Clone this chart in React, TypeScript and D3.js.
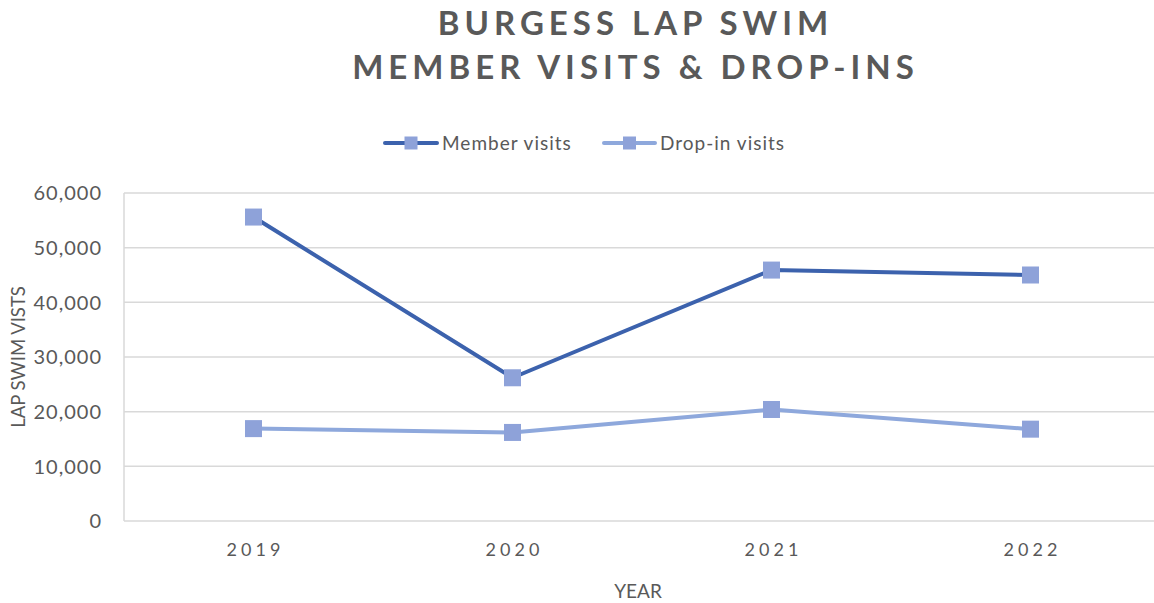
import React from 'react';
import * as d3 from 'd3';

const years = ['2019', '2020', '2021', '2022'];
const memberVisits = [55600, 26200, 45900, 45000];
const dropInVisits = [16900, 16200, 20400, 16800];
const yTicks = [0, 10000, 20000, 30000, 40000, 50000, 60000];

const series = [
  { name: 'Member visits', values: memberVisits, line: '#3c62ad' },
  { name: 'Drop-in visits', values: dropInVisits, line: '#8ea8dc' },
];

const W = 1154;
const H = 603;
const margin = { top: 193, right: -6, bottom: 82, left: 124 };
const font = 'Lato, "Noto Sans", sans-serif';
const textColor = '#595959';
const markerColor = '#8ea2d9';

const App = () => {
  const x = d3
    .scaleBand()
    .domain(years)
    .range([margin.left, W - margin.right]);
  const y = d3
    .scaleLinear()
    .domain([0, 60000])
    .range([H - margin.bottom, margin.top]);
  const fmt = d3.format(',');
  const cx = (i: number) => (x(years[i]) as number) + x.bandwidth() / 2;

  const line = d3
    .line<number>()
    .x((_, i) => cx(i))
    .y(d => y(d));

  const ms = 17;
  const legend = [
    { x0: 385, x1: 437, tx: 442 },
    { x0: 604, x1: 655, tx: 660 },
  ];
  const titleSpacing = 5;

  return (
    <svg
      width={W}
      height={H}
      style={{ position: 'absolute', left: 0, top: 0, background: '#fff' }}
      fontFamily={font}
    >
      {/* title */}
      <text
        x={633 + titleSpacing / 2}
        y={35}
        textAnchor="middle"
        fontSize={33}
        fontWeight="bold"
        fill={textColor}
        letterSpacing={titleSpacing}
      >
        BURGESS LAP SWIM
      </text>
      <text
        x={633 + titleSpacing / 2}
        y={79}
        textAnchor="middle"
        fontSize={33}
        fontWeight="bold"
        fill={textColor}
        letterSpacing={titleSpacing}
      >
        MEMBER VISITS &amp; DROP-INS
      </text>

      {/* legend */}
      {series.map((s, i) => (
        <g key={s.name}>
          <line
            x1={legend[i].x0}
            x2={legend[i].x1}
            y1={143}
            y2={143}
            stroke={s.line}
            strokeWidth={4}
            strokeLinecap="round"
          />
          <rect
            x={(legend[i].x0 + legend[i].x1) / 2 - 6.5}
            y={143 - 6.5}
            width={13}
            height={13}
            fill={markerColor}
          />
          <text
            x={legend[i].tx}
            y={150}
            fontSize={19}
            fill={textColor}
            letterSpacing={1}
          >
            {s.name}
          </text>
        </g>
      ))}

      {/* gridlines */}
      {yTicks.map(t => (
        <g key={t}>
          <line
            x1={margin.left}
            x2={W}
            y1={y(t)}
            y2={y(t)}
            stroke="#d9d9d9"
            strokeWidth={1.5}
          />
          <text
            x={102}
            y={y(t)}
            dy="0.36em"
            textAnchor="end"
            fontSize={20}
            fill={textColor}
            letterSpacing={1}
          >
            {fmt(t)}
          </text>
        </g>
      ))}
      <line
        x1={margin.left}
        x2={margin.left}
        y1={y(60000)}
        y2={y(0)}
        stroke="#d9d9d9"
        strokeWidth={1.5}
      />

      {/* x labels */}
      {years.map((yr, i) => (
        <text
          key={yr}
          x={cx(i) + 2}
          y={556}
          textAnchor="middle"
          fontSize={18}
          fill={textColor}
          letterSpacing={4}
        >
          {yr}
        </text>
      ))}
      <text x={638} y={598} textAnchor="middle" fontSize={19} fill={textColor}>
        YEAR
      </text>
      <text
        transform={`translate(25, ${357}) rotate(-90)`}
        textAnchor="middle"
        fontSize={18.5}
        fill={textColor}
      >
        LAP SWIM VISTS
      </text>

      {/* series */}
      {series.map(s => (
        <g key={s.name}>
          <path
            d={line(s.values) || ''}
            fill="none"
            stroke={s.line}
            strokeWidth={4}
            strokeLinejoin="round"
          />
          {s.values.map((v, i) => (
            <rect
              key={i}
              x={cx(i) - ms / 2}
              y={y(v) - ms / 2}
              width={ms}
              height={ms}
              fill={markerColor}
            />
          ))}
        </g>
      ))}
    </svg>
  );
};

export default App;
